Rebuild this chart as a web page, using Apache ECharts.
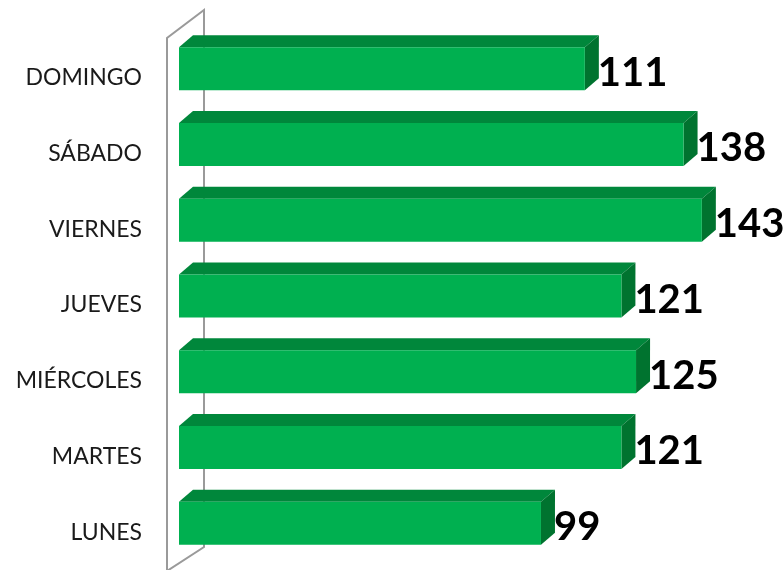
<!DOCTYPE html>
<html>
<head>
<meta charset="utf-8">
<script src="https://cdn.jsdelivr.net/npm/echarts@6/dist/echarts.min.js"></script>
<style>
  html, body { margin: 0; padding: 0; background: #ffffff; }
  #chart { width: 784px; height: 570px; }
</style>
</head>
<body>
<div id="chart"></div>
<script>
// Days listed bottom to top
const days = ['LUNES', 'MARTES', 'MIÉRCOLES', 'JUEVES', 'VIERNES', 'SÁBADO', 'DOMINGO'];
const counts = [99, 121, 125, 121, 143, 138, 111];

// 3D bar look
const FRONT = '#00B050';
const TOP = '#00873B';
const SIDE = '#00732F';
const DEPTH_X = 14;
const DEPTH_Y = 12;
const BAR_H = 43;
const BAR_SHIFT = -9;

const chart = echarts.init(document.getElementById('chart'));

function renderBar(params, api) {
  const idx = api.value(0);
  const val = api.value(1);
  const p0 = api.coord([0, idx]);
  const p1 = api.coord([val, idx]);
  const x0 = p0[0], x1 = p1[0];
  const yc = p0[1] + BAR_SHIFT;
  const top = yc - BAR_H / 2;
  const bot = yc + BAR_H / 2;
  return {
    type: 'group',
    children: [
      { type: 'polygon', shape: { points: [[x0, top], [x0 + DEPTH_X, top - DEPTH_Y], [x1 + DEPTH_X, top - DEPTH_Y], [x1, top]] }, style: { fill: TOP } },
      { type: 'polygon', shape: { points: [[x1, top], [x1 + DEPTH_X, top - DEPTH_Y], [x1 + DEPTH_X, bot - DEPTH_Y], [x1, bot]] }, style: { fill: SIDE } },
      { type: 'rect', shape: { x: x0, y: top, width: x1 - x0, height: BAR_H }, style: { fill: FRONT } },
      { type: 'text', x: x1 + 13, y: p0[1] - 5, style: {
          text: String(val), fill: '#000000', font: 'bold 40px Lato, "Open Sans", sans-serif',
          textAlign: 'left', textVerticalAlign: 'middle' } }
    ]
  };
}

// Side wall of the 3D plot area
function renderWall(params, api) {
  const cs = params.coordSys;
  const fx = cs.x - 12, bx = cs.x + 25;
  const pts = [
    [fx, cs.y + cs.height + 2],
    [fx, cs.y - 2],
    [bx, cs.y - 30],
    [bx, cs.y + cs.height - 23],
    [fx, cs.y + cs.height + 1]
  ];
  return {
    type: 'polyline',
    shape: { points: pts },
    style: { stroke: '#9a9a9a', lineWidth: 2, fill: null }
  };
}

chart.setOption({
  animation: false,
  backgroundColor: '#ffffff',
  grid: { left: 179, right: 20, top: 40, bottom: -1, containLabel: false },
  xAxis: {
    type: 'value', min: 0, max: 160, show: false
  },
  yAxis: {
    type: 'category',
    data: days,
    axisLine: { show: false },
    axisTick: { show: false },
    splitLine: { show: false },
    axisLabel: {
      margin: 37,
      color: '#1a1a1a',
      fontSize: 23,
      fontFamily: 'Lato, "Open Sans", sans-serif'
    }
  },
  series: [
    {
      type: 'custom',
      name: 'pared',
      renderItem: renderWall,
      data: [[0]],
      clip: false,
      silent: true,
      z: 1
    },
    {
      type: 'custom',
      name: 'visitas',
      renderItem: renderBar,
      encode: { x: 1, y: 0 },
      data: counts.map((v, i) => [i, v]),
      clip: false,
      z: 2
    }
  ]
});
</script>
</body>
</html>
